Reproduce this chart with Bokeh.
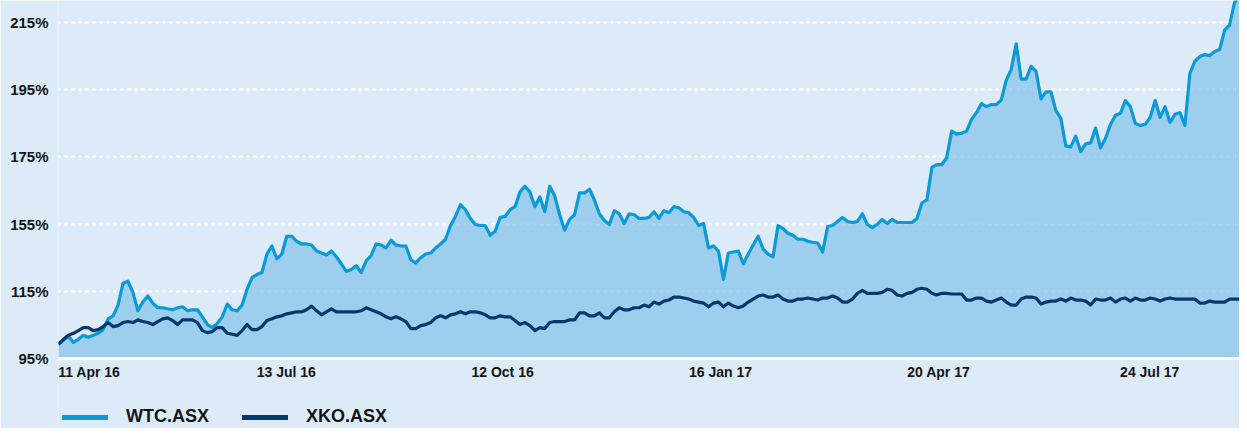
from bokeh.plotting import figure
from bokeh.models import (ColumnDataSource, Range1d, FixedTicker, Legend, LegendItem,
                          CDSView, IndexFilter)
from bokeh.embed import file_html
from bokeh.resources import INLINE

# ---- data (percent of start value, one point per ~2 trading days) ----
wtc = [
    99.2, 100.4, 101.6, 99.8, 100.7, 101.9, 101.3, 101.9, 102.5, 103.6,
    106.8, 107.7, 110.9, 117.4, 118.0, 114.7, 109.2, 111.8, 113.6, 111.5,
    110.1, 110.1, 109.8, 109.5, 110.1, 110.4, 109.2, 109.5, 109.5, 107.4,
    105.1, 104.2, 105.4, 107.4, 111.2, 109.5, 109.2, 110.9, 115.6, 119.1,
    120.0, 120.6, 126.1, 128.5, 124.7, 126.1, 131.4, 131.4, 129.9, 129.1,
    129.1, 128.8, 127.0, 126.4, 125.8, 127.0, 125.3, 123.2, 120.9, 121.5,
    122.6, 120.6, 124.1, 125.6, 129.1, 128.8, 127.9, 130.2, 128.8, 128.5,
    128.5, 124.4, 123.5, 125.0, 126.1, 126.4, 127.9, 129.1, 130.5, 134.6,
    137.3, 140.8, 139.3, 136.7, 134.9, 134.6, 134.6, 131.7, 132.9, 137.0,
    137.3, 139.3, 140.2, 144.6, 146.3, 144.6, 140.2, 143.1, 138.7, 146.3,
    143.4, 137.8, 133.2, 136.4, 137.8, 144.3, 144.3, 145.4, 142.2, 138.1,
    136.1, 134.9, 139.0, 138.1, 135.2, 138.1, 137.8, 136.7, 136.7, 137.0,
    138.7, 136.7, 139.0, 138.4, 140.2, 139.9, 138.7, 138.4, 137.0, 134.6,
    135.2, 127.9, 128.5, 127.0, 118.5, 126.4, 126.7, 127.0, 123.2, 126.1,
    128.8, 131.4, 127.6, 126.1, 125.3, 134.6, 133.7, 132.3, 131.7, 130.5,
    130.5, 129.9, 129.6, 129.4, 126.7, 134.3, 134.6, 135.8, 137.0, 135.8,
    135.5, 135.8, 138.1, 134.9, 134.0, 134.9, 136.4, 135.2, 136.4, 135.5,
    135.5, 135.5, 135.5, 136.7, 141.3, 142.2, 151.9, 152.7, 152.7, 154.8,
    162.7, 161.8, 162.1, 162.7, 166.2, 168.2, 170.9, 170.0, 170.6, 170.6,
    172.0, 177.9, 181.1, 188.7, 178.2, 178.2, 182.0, 180.5, 172.3, 174.4,
    174.4, 168.8, 166.5, 158.3, 158.0, 161.2, 156.6, 158.9, 159.2, 163.6,
    157.7, 160.6, 164.7, 167.4, 168.0, 171.8, 170.0, 165.0, 164.4, 164.7,
    166.8, 171.8, 166.8, 170.0, 165.3, 167.7, 168.2, 164.4, 179.9, 183.5,
    184.9, 185.5, 185.2, 186.4, 187.0, 192.8, 194.3, 201.0, 203.3,
]

xko = [
    99.2, 100.7, 101.9, 102.5, 103.3, 104.2, 104.2, 103.3, 103.6, 104.5,
    105.7, 104.5, 104.8, 105.7, 106.0, 105.7, 106.5, 106.0, 105.7, 105.1,
    106.0, 106.8, 107.1, 106.3, 105.1, 106.5, 106.5, 106.5, 105.7, 103.3,
    102.7, 103.0, 104.2, 104.2, 102.5, 102.2, 101.9, 103.3, 105.1, 103.6,
    103.6, 104.5, 106.3, 106.8, 107.4, 107.7, 108.3, 108.6, 108.9, 108.9,
    109.5, 110.6, 109.2, 108.0, 108.9, 109.8, 108.9, 108.9, 108.9, 108.9,
    108.9, 109.2, 110.1, 109.5, 108.9, 108.3, 107.4, 106.8, 107.4, 106.8,
    106.0, 103.9, 103.9, 104.8, 105.1, 105.7, 107.1, 107.7, 107.1, 108.0,
    108.3, 108.9, 108.3, 108.9, 108.9, 108.6, 108.0, 107.1, 107.1, 107.7,
    107.4, 107.4, 106.3, 105.1, 105.7, 104.8, 103.3, 104.2, 103.9, 105.7,
    106.0, 106.0, 106.0, 106.5, 106.5, 108.6, 108.6, 107.7, 107.7, 108.6,
    107.1, 107.1, 108.9, 110.1, 109.5, 109.5, 110.1, 110.1, 110.9, 110.4,
    111.8, 111.2, 112.1, 112.4, 113.3, 113.3, 113.0, 112.7, 112.1, 111.8,
    111.5, 110.4, 111.5, 111.8, 110.4, 111.5, 110.6, 110.1, 110.6, 111.8,
    112.7, 113.6, 113.9, 113.3, 113.3, 113.9, 112.7, 112.1, 112.1, 112.7,
    112.7, 113.0, 112.7, 112.4, 113.0, 113.0, 113.6, 113.0, 111.8, 111.8,
    112.7, 114.4, 115.3, 114.4, 114.4, 114.4, 114.7, 115.6, 115.3, 113.9,
    113.6, 114.4, 114.7, 115.6, 115.9, 115.6, 114.4, 113.9, 114.4, 114.4,
    114.2, 114.2, 114.2, 112.4, 112.4, 113.0, 113.0, 112.1, 111.8, 112.4,
    113.0, 111.8, 110.9, 110.9, 112.7, 113.3, 113.3, 113.0, 111.2, 111.8,
    112.1, 112.1, 112.7, 112.1, 113.0, 112.4, 112.4, 112.1, 110.9, 112.7,
    112.4, 112.4, 113.0, 111.8, 112.7, 113.0, 112.1, 113.0, 112.4, 112.4,
    113.0, 112.7, 112.1, 112.7, 113.0, 112.7, 112.7, 112.7, 112.7, 112.7,
    111.5, 111.5, 112.1, 111.8, 111.8, 111.8, 112.7, 112.7, 112.7,
]

series_names = ["WTC.ASX", "XKO.ASX"]

x_tick_pos = [6.2, 45.9, 89.5, 133.4, 177.4, 219.9]
x_tick_labels = ["11 Apr 16", "13 Jul 16", "12 Oct 16", "16 Jan 17", "20 Apr 17", "24 Jul 17"]

y_tick_pos = [95, 115, 135, 155, 175, 195]
y_tick_labels = ["95%", "115%", "155%", "175%", "195%", "215%"]

# ---- styling ----
BG = "#dcebf7"
FILL = "#7fc0e8"
C_WTC = "#0b9ad6"
C_XKO = "#07386b"
TXT = "#141414"
FONT = "Liberation Sans"

n = len(wtc)
src = ColumnDataSource(data=dict(x=list(range(n)), wtc=wtc, xko=xko[:n]))

y_base = 95.0      # axis baseline value
y_top = 201.6      # value at the top edge of the plot
y_bottom = 74.15   # value at the bottom edge of the canvas (room for labels + legend)

p = figure(width=1239, height=428, output_backend="svg", toolbar_location=None,
           x_range=Range1d(0, n - 1), y_range=Range1d(y_bottom, y_top),
           min_border_left=58, min_border_right=0, min_border_top=0,
           min_border_bottom=0)
p.background_fill_color = BG
p.border_fill_color = BG
p.outline_line_color = None

# grid
p.xgrid.visible = False
p.ygrid.ticker = FixedTicker(ticks=y_tick_pos[1:])
p.ygrid.grid_line_color = "white"
p.ygrid.grid_line_width = 2.6
p.ygrid.grid_line_dash = "1 6"
p.ygrid.grid_line_cap = "round"

# area + lines
p.varea(x="x", y1=y_base, y2="wtc", source=src, fill_color=FILL, fill_alpha=0.68)
p.line(x="x", y="wtc", source=src, line_color=C_WTC, line_width=3.2, line_join="round")
p.line(x="x", y="xko", source=src, line_color=C_XKO, line_width=3.2, line_join="round")

# legend proxies: thicker strokes; a single-point view draws nothing in the plot
one = CDSView(filter=IndexFilter(indices=[0]))
lw = p.line(x="x", y="wtc", source=src, view=one, line_color=C_WTC, line_width=5, line_cap="round")
lx = p.line(x="x", y="xko", source=src, view=one, line_color=C_XKO, line_width=5, line_cap="round")

legend = Legend(items=[LegendItem(label=series_names[0], renderers=[lw]),
                       LegendItem(label=series_names[1], renderers=[lx])],
                location=(4, 1), orientation="horizontal",
                background_fill_alpha=0, border_line_alpha=0,
                padding=0, margin=0, spacing=33,
                glyph_width=46, glyph_height=20, label_height=20,
                label_standoff=18,
                label_text_font=FONT, label_text_font_style="bold",
                label_text_font_size="18px", label_text_color=TXT)
p.add_layout(legend)

# axes
xa = p.xaxis[0]
xa.fixed_location = y_base
xa.ticker = FixedTicker(ticks=x_tick_pos)
xa.major_label_overrides = {t: l for t, l in zip(x_tick_pos, x_tick_labels)}
xa.axis_line_color = "white"
xa.axis_line_width = 3
xa.major_tick_line_color = None
xa.minor_tick_line_color = None
xa.major_tick_out = 0
xa.major_label_standoff = 6
xa.major_label_text_font = FONT
xa.major_label_text_font_style = "bold"
xa.major_label_text_font_size = "14px"
xa.major_label_text_color = TXT

ya = p.yaxis[0]
ya.ticker = FixedTicker(ticks=y_tick_pos)
ya.major_label_overrides = {t: l for t, l in zip(y_tick_pos, y_tick_labels)}
ya.axis_line_color = None
ya.major_tick_line_color = None
ya.minor_tick_line_color = None
ya.major_tick_out = 0
ya.major_label_standoff = 10
ya.major_label_text_font = FONT
ya.major_label_text_font_style = "bold"
ya.major_label_text_font_size = "15px"
ya.major_label_text_color = TXT

open("out.html", "w").write(file_html(p, INLINE))
